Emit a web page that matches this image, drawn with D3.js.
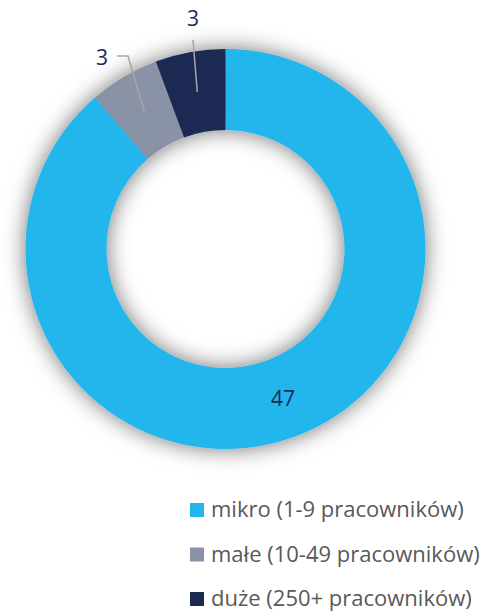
<!DOCTYPE html>
<html>
<head>
<meta charset="utf-8">
<script src="https://cdn.jsdelivr.net/npm/d3@7"></script>
<style>
  body { margin: 0; background: #fff; }
  svg { display: block; font-family: "Open Sans", "Noto Sans", sans-serif; }
</style>
</head>
<body>
<svg id="chart" width="503" height="614"></svg>
<script>
// data
const categories = ["mikro (1-9 pracowników)", "małe (10-49 pracowników)", "duże (250+ pracowników)"]
const values = [47, 3, 3]
const colors = ["#23b6ec", "#8a93a5", "#1b2a52"]

let svg = d3.select("#chart"),
    cx = 225.5, cy = 249,
    outerR = 200, innerR = 119

let defs = svg.append("defs")
let f = defs.append("filter").attr("id", "glow")
    .attr("x", "-30%").attr("y", "-30%").attr("width", "160%").attr("height", "160%")
f.append("feGaussianBlur").attr("in", "SourceAlpha").attr("stdDeviation", 11).attr("result", "b")
f.append("feFlood").attr("flood-color", "#000").attr("flood-opacity", 0.55)
f.append("feComposite").attr("in2", "b").attr("operator", "in").attr("result", "s")
let m = f.append("feMerge")
m.append("feMergeNode").attr("in", "s")
m.append("feMergeNode").attr("in", "SourceGraphic")

let pie = d3.pie().sort(null).value(d => d)
let arcs = pie(values)
let arc = d3.arc().innerRadius(innerR).outerRadius(outerR)
let mid = d3.arc().innerRadius((innerR + outerR) / 2).outerRadius((innerR + outerR) / 2)

let g = svg.append("g").attr("transform", "translate(" + cx + "," + cy + ")")

g.append("g").attr("filter", "url(#glow)")
  .selectAll("path").data(arcs).enter().append("path")
    .attr("d", arc)
    .attr("fill", (d, i) => colors[i])

// labels: first one sits on the ring, the small ones are pulled out with leader lines
let labelPos = [null, [-123.5, -191], [-32.5, -230]]

arcs.forEach((d, i) => {
  let c = mid.centroid(d)
  if (!labelPos[i]) {
    g.append("text").attr("x", c[0] + 2).attr("y", c[1])
      .attr("text-anchor", "middle").attr("dy", "0.35em")
      .attr("font-size", 21).attr("fill", "#1b2a52")
      .text(values[i])
    return
  }
  let p = labelPos[i]
  let pts = i == 1
    ? [[p[0] + 15, p[1] - 2], [p[0] + 26, p[1] - 2], c]
    : [[p[0] + 0, p[1] + 21], c]
  g.append("polyline")
    .attr("points", pts.map(q => q.join(",")).join(" "))
    .attr("fill", "none").attr("stroke", "#a6a6a6").attr("stroke-width", 1.5)
  g.append("text").attr("x", p[0]).attr("y", p[1])
    .attr("text-anchor", "middle").attr("dy", "0.35em")
    .attr("font-size", 21).attr("fill", "#1b2a52")
    .text(values[i])
})

// legend
let y = d3.scaleBand().domain(categories).range([487.75, 621.25])

let legend = svg.append("g").selectAll("g").data(categories).enter().append("g")
  .attr("transform", d => "translate(190," + (y(d) + y.bandwidth() / 2) + ")")
legend.append("rect").attr("x", 0).attr("y", -7).attr("width", 14).attr("height", 14)
  .attr("fill", (d, i) => colors[i])
legend.append("text").attr("x", 21).attr("dy", "0.33em")
  .attr("font-size", 22).attr("fill", "#595959")
  .text(d => d)
</script>
</body>
</html>
